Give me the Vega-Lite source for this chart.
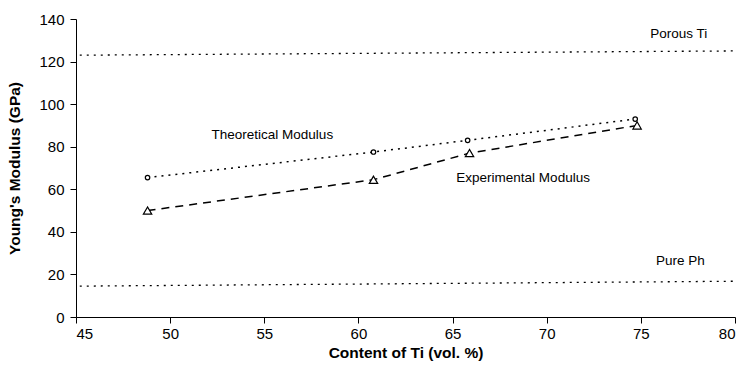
{
  "$schema": "https://vega.github.io/schema/vega-lite/v6.json",
  "width": 659,
  "height": 298,
  "autosize": "none",
  "padding": {"left": 76, "top": 19, "right": 5, "bottom": 59},
  "background": "white",
  "config": {
    "view": {"stroke": null},
    "font": "Liberation Sans",
    "axis": {
      "grid": false,
      "domainColor": "black",
      "tickColor": "black",
      "labelColor": "black",
      "titleColor": "black",
      "labelFont": "Liberation Sans",
      "labelFontSize": 15,
      "titleFont": "Liberation Sans",
      "titleFontSize": 15.5,
      "titleFontWeight": "bold",
      "tickSize": 6
    }
  },
  "datasets": {
    "moduli": [
      {"content": 48.8, "modulus": 65.5, "series": "Theoretical"},
      {"content": 60.8, "modulus": 77.5, "series": "Theoretical"},
      {"content": 65.8, "modulus": 83, "series": "Theoretical"},
      {"content": 74.7, "modulus": 93, "series": "Theoretical"},
      {"content": 48.8, "modulus": 50, "series": "Experimental"},
      {"content": 60.8, "modulus": 64.5, "series": "Experimental"},
      {"content": 65.9, "modulus": 77, "series": "Experimental"},
      {"content": 74.8, "modulus": 90, "series": "Experimental"}
    ],
    "refs": [
      {"content": 45.2, "modulus": 123, "ref": "Porous Ti"},
      {"content": 80, "modulus": 125, "ref": "Porous Ti"},
      {"content": 45.2, "modulus": 14.5, "ref": "Pure Ph"},
      {"content": 80, "modulus": 16.8, "ref": "Pure Ph"}
    ],
    "labels": [
      {"content": 75.5, "modulus": 133, "text": "Porous Ti"},
      {"content": 75.8, "modulus": 26.5, "text": "Pure Ph"},
      {"content": 52.2, "modulus": 85.5, "text": "Theoretical Modulus"},
      {"content": 65.2, "modulus": 65.3, "text": "Experimental Modulus"}
    ]
  },
  "encoding": {
    "x": {
      "field": "content", "type": "quantitative",
      "scale": {"domain": [45, 80], "nice": false, "zero": false},
      "axis": {"values": [45, 50, 55, 60, 65, 70, 75, 80], "title": "Content of Ti (vol. %)", "titlePadding": 4, "labelPadding": 3}
    },
    "y": {
      "field": "modulus", "type": "quantitative",
      "scale": {"domain": [0, 140], "nice": false},
      "axis": {"values": [0, 20, 40, 60, 80, 100, 120, 140], "title": "Young's Modulus (GPa)", "titlePadding": 16, "labelPadding": 6}
    }
  },
  "layer": [
    {
      "data": {"name": "refs"},
      "mark": {"type": "line", "color": "black", "strokeWidth": 1.3, "strokeDash": [2, 5]},
      "encoding": {"detail": {"field": "ref"}}
    },
    {
      "data": {"name": "moduli"},
      "transform": [{"filter": "datum.series === 'Theoretical'"}],
      "mark": {"type": "line", "color": "black", "strokeWidth": 1.5, "strokeDash": [2, 5]},
      "encoding": {}
    },
    {
      "data": {"name": "moduli"},
      "transform": [{"filter": "datum.series === 'Experimental'"}],
      "mark": {"type": "line", "color": "black", "strokeWidth": 1.5, "strokeDash": [8, 6]},
      "encoding": {}
    },
    {
      "data": {"name": "moduli"},
      "transform": [{"filter": "datum.series === 'Theoretical'"}],
      "mark": {"type": "point", "shape": "circle", "filled": true, "fill": "white", "stroke": "black", "strokeWidth": 1.2, "size": 20, "opacity": 1}
    },
    {
      "data": {"name": "moduli"},
      "transform": [{"filter": "datum.series === 'Experimental'"}],
      "mark": {"type": "point", "shape": "triangle-up", "filled": true, "fill": "white", "stroke": "black", "strokeWidth": 1.2, "size": 70, "opacity": 1}
    },
    {
      "data": {"name": "labels"},
      "mark": {"type": "text", "align": "left", "baseline": "middle", "fontSize": 13.5, "font": "Liberation Sans", "color": "black"},
      "encoding": {"text": {"field": "text"}}
    }
  ]
}
